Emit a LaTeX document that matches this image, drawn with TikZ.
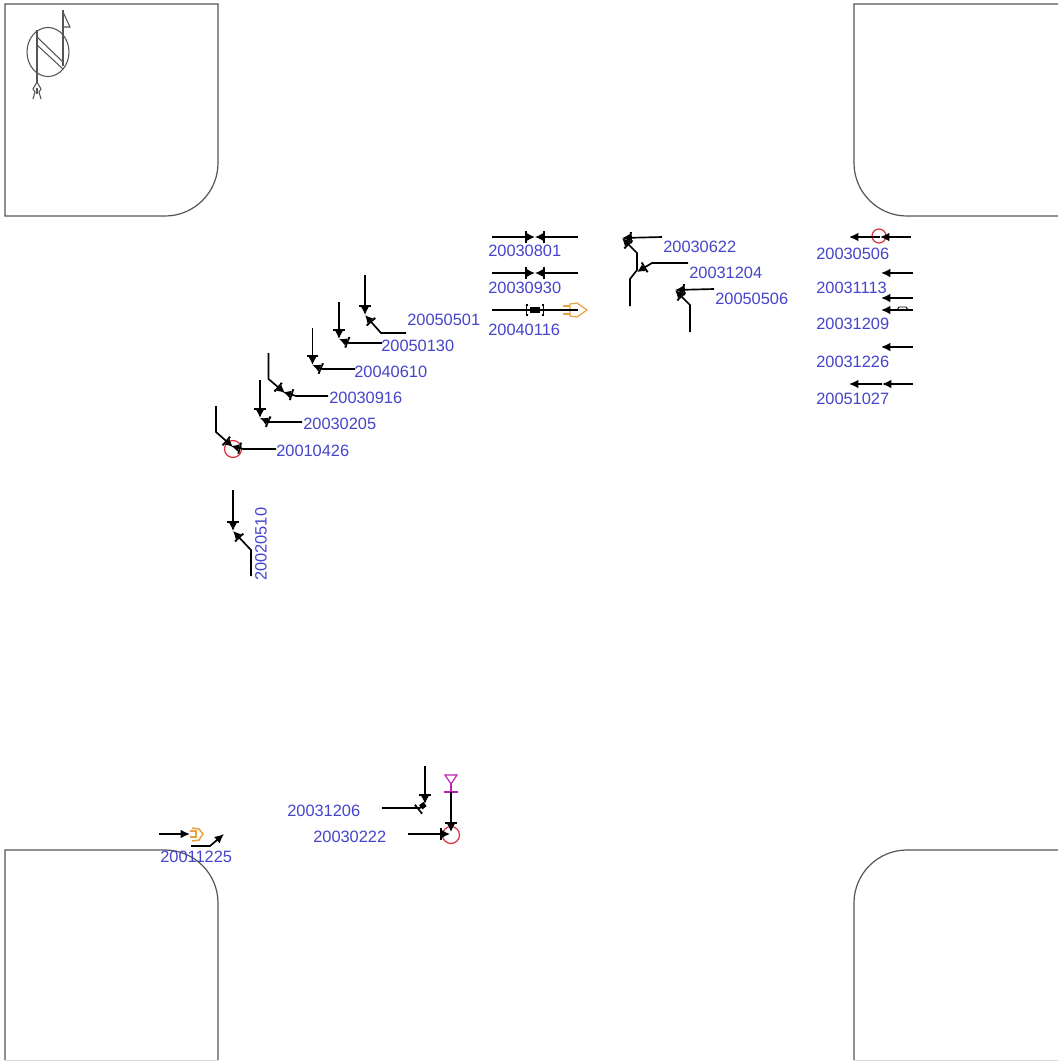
\documentclass[tikz,border=0pt]{standalone}
\usepackage{fontspec}
\setmainfont{Liberation Sans}
\usetikzlibrary{arrows.meta}
\definecolor{labelblue}{HTML}{4444CC}
\definecolor{blockgray}{HTML}{555555}
\definecolor{lampred}{HTML}{D8303C}
\definecolor{signorange}{HTML}{E8A040}
\definecolor{yieldpink}{HTML}{C020B0}

\begin{document}
\begin{tikzpicture}[
  x=0.75pt, y=-0.75pt,
  block/.style={draw=blockgray, line width=0.9pt},
  edge/.style={draw=black!15, line width=0.75pt},
  datelabel/.style={anchor=west, inner sep=0pt, text=labelblue, font=\fontsize{12.3}{14}\selectfont},
  veh/.style={line width=1.25pt, -{Tee Barb[length=1.5pt,width=8.5pt,line width=1.2pt,sep=0pt]Latex[length=6pt,width=6pt]}},
  vehsq/.style={line width=1.25pt, -{Tee Barb[length=1.5pt,width=8.5pt,line width=1.2pt,sep=1.5pt]Square[length=4pt,width=4pt]}},
  plain/.style={line width=1.25pt, -{Latex[length=7pt,width=6.5pt]}},
  lamp/.style={draw=lampred, line width=0.9pt},
  sign/.style={draw=signorange, line width=0.9pt},
  north/.style={draw=blockgray, line width=0.8pt}
]
\useasboundingbox (0,0) rectangle (1058,1061);

% corner blocks
\draw[block] (5,4) -- (218,4) [rounded corners=39.75pt] -- (218,216) [sharp corners] -- (5,216) -- cycle;
\draw[block] (1058,4) -- (854,4) [rounded corners=39.75pt] -- (854,216) [sharp corners] -- (1058,216);
\draw[block] (5,1060) -- (5,850) [rounded corners=39.75pt] -- (218,850) [sharp corners] -- (218,1060);
\draw[block] (1058,850) [rounded corners=39.75pt] -- (854,850) [sharp corners] -- (854,1060);
\draw[edge] (5,1060) -- (218,1060);
\draw[edge] (854,1060) -- (1058,1060);

% north arrow
\draw[north] (48,52) ellipse (21 and 24.5);
\draw[north] (63,10) -- (63,66);
\draw[north] (63,12) -- (70,27) -- (63,27);
\draw[north] (37,30) -- (37,82);
\draw[north] (37,37) -- (63,62);
\draw[north] (37,45) -- (63,69);
\draw[north] (37,82) -- (33,89) -- (35,92) -- (33,99);
\draw[north] (37,82) -- (41,89) -- (39,92) -- (41,99);
\draw[north] (37,88) -- (37,94);

% approach from the north, left side
\draw[veh] (365,275) -- (365,315);
\draw[veh] (406,333) -- (381,333) -- (365,315);
\node[datelabel] (d20050501) at (407,320) {20050501};
\draw[veh] (339,302) -- (339,339);
\draw[veh] (382,343) -- (349,343) -- (339,339);
\node[datelabel] (d20050130) at (381,346) {20050130};
\draw[veh] (312.5,328) -- (312.5,365);
\draw[veh] (355,369) -- (322,369) -- (312.5,365);
\node[datelabel] (d20040610) at (354,372) {20040610};
\draw[veh] (268.5,353) -- (268.5,379) -- (285,393);
\draw[veh] (328,396) -- (296,396) -- (283,392);
\node[datelabel] (d20030916) at (329,398) {20030916};
\draw[veh] (260,380) -- (260,418);
\draw[veh] (302,422) -- (269,422) -- (260,418);
\node[datelabel] (d20030205) at (303,424) {20030205};
\draw[lamp] (233,449) circle (8.5);
\draw[veh] (216,406) -- (216,432) -- (233,447);
\draw[veh] (276,449) -- (243,449) -- (231,446);
\node[datelabel] (d20010426) at (276,451) {20010426};
\draw[veh] (233,490) -- (233,531);
\draw[veh] (251,576) -- (251,550) -- (233,531);
\node[datelabel, rotate=90] (d20020510) at (261,581) {20020510};

% centre group
\draw[veh] (492,237) -- (535,237);
\draw[veh] (578,237) -- (535,237);
\node[datelabel] (d20030801) at (488,251) {20030801};
\draw[veh] (492,273) -- (535,273);
\draw[veh] (578,273) -- (535,273);
\node[datelabel] (d20030930) at (488,288) {20030930};
\draw[sign] (570,304) -- (577,303) -- (587,310) -- (577,317) -- (570,316) -- cycle;
\draw[sign, line width=1.1pt] (563,306) -- (570,306) (563,310) -- (570,310) (563,314) -- (570,314);
\draw[vehsq] (492,310) -- (535,310);
\draw[vehsq] (578,310) -- (535,310);
\node[datelabel] (d20040116) at (488,330) {20040116};
\draw[veh] (662,237) -- (622,238);
\draw[veh] (630,306) -- (630,279) -- (637,270) -- (637,253) -- (622,238);
\node[datelabel] (d20030622) at (663,247) {20030622};
\draw[veh] (688,263) -- (652,263) -- (637,272);
\node[datelabel] (d20031204) at (689,273) {20031204};
\draw[veh] (714,289) -- (675,290);
\draw[veh] (690,332) -- (690,305) -- (675,290);
\node[datelabel] (d20050506) at (715,299) {20050506};

% right group
\draw[lamp] (879,236) circle (7);
\draw[plain] (911,237) -- (880,237);
\draw[plain] (880,237) -- (849,237);
\node[datelabel] (d20030506) at (816,254) {20030506};
\draw[plain] (913,273) -- (881,273);
\node[datelabel] (d20031113) at (816,288) {20031113};
\draw[plain] (913,298) -- (881,298);
\draw[plain] (913,310) -- (881,310);
\draw[line width=0.7pt] (897,310) -- (899,307) -- (906,307) -- (908,310);
\node[datelabel] (d20031209) at (816,324) {20031209};
\draw[plain] (913,347) -- (881,347);
\node[datelabel] (d20031226) at (816,362) {20031226};
\draw[plain] (913,384) -- (882,384);
\draw[plain] (882,384) -- (849,384);
\node[datelabel] (d20051027) at (816,399) {20051027};

% lower left
\draw[sign, line width=1.1pt] (192,828) -- (199,829) -- (203,834) -- (199,840) -- (192,841);
\draw[sign, line width=1.1pt] (190,831) -- (196,831) -- (196,837) -- (190,837);
\draw[plain] (159,834) -- (190,834);
\draw[plain] (191,846) -- (210,846) -- (224,834);
\node[datelabel] (d20011225) at (160,857) {20011225};

% lower centre
\draw[veh] (425,766) -- (425,804);
\draw[vehsq] (382,808) -- (420,808) -- (425,804);
\node[datelabel] (d20031206) at (287,811) {20031206};
\draw[lamp] (451,835) circle (8.5);
\draw[yieldpink, line width=0.9pt] (445,775) -- (457,775) -- (451,784) -- cycle;
\draw[yieldpink, line width=0.9pt] (451,784) -- (451,792) (444,792) -- (458,792);
\draw[veh] (451,792) -- (451,832);
\draw[veh] (408,834) -- (450,834);
\node[datelabel] (d20030222) at (313,837) {20030222};
\end{tikzpicture}
\end{document}
